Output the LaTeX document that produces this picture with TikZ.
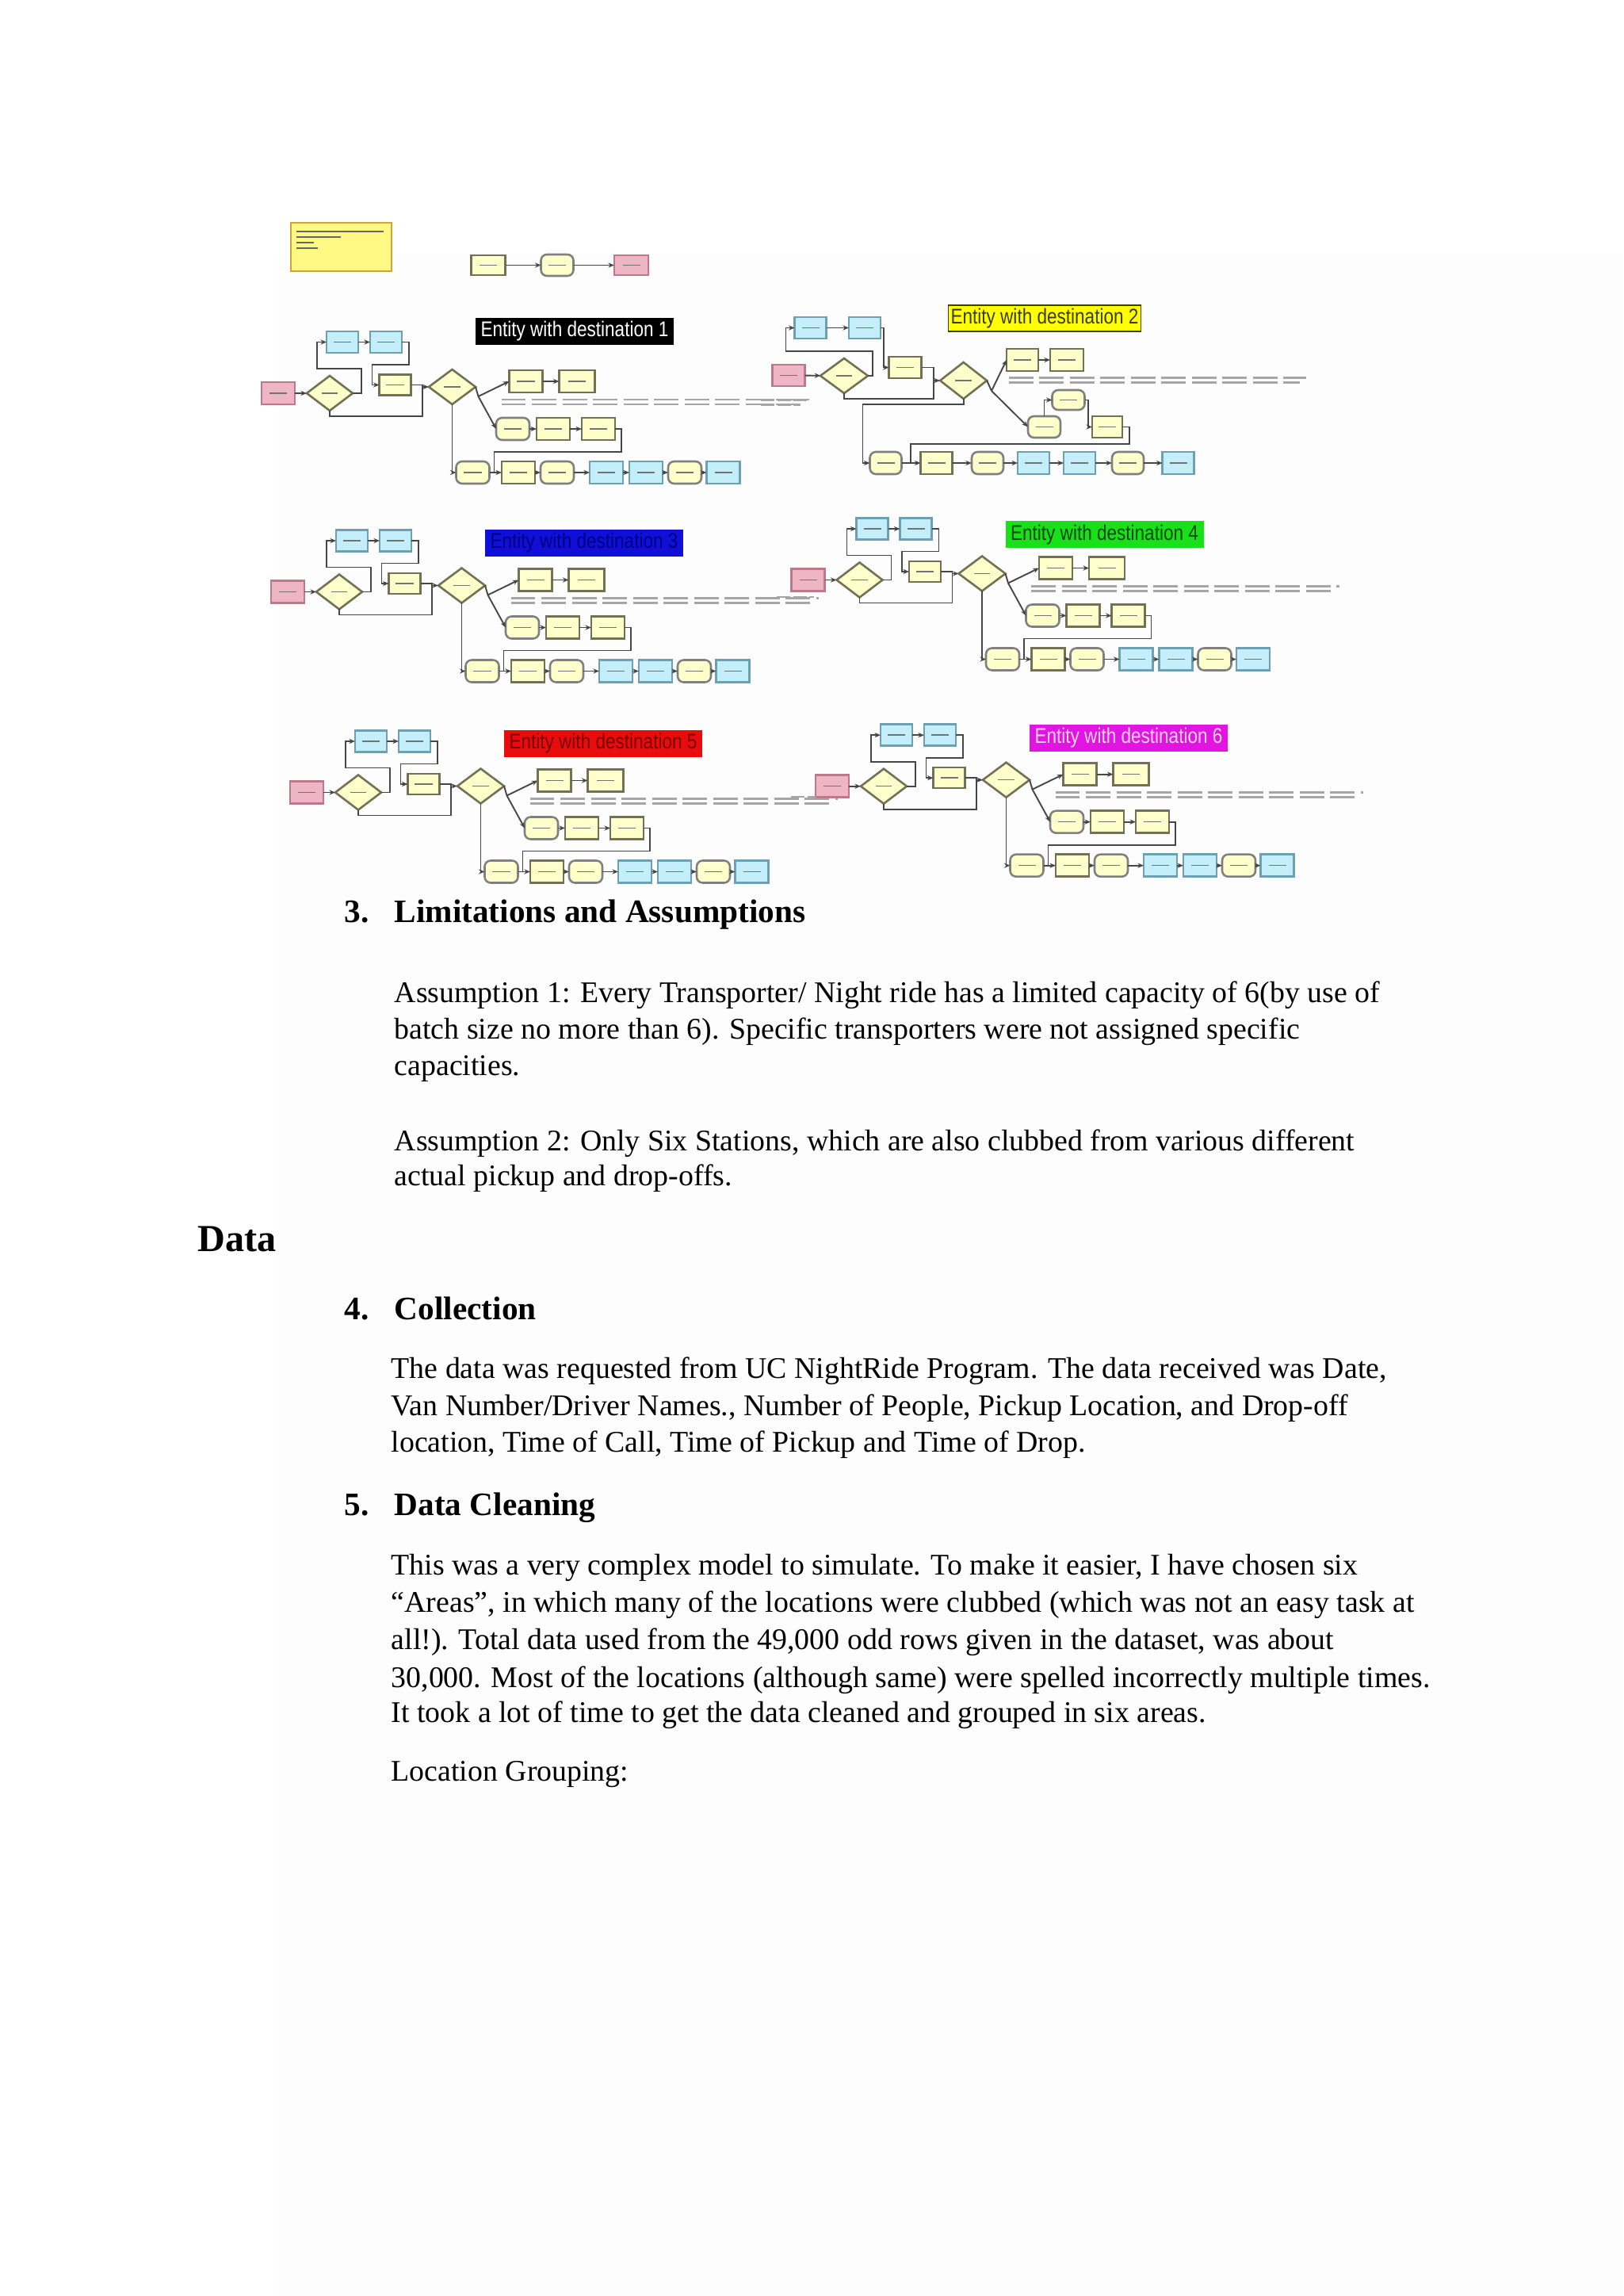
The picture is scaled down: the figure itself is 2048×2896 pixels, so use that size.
\documentclass[tikz,border=0pt]{standalone}
\usepackage{fontspec}
\setmainfont{Liberation Serif}
\newfontfamily\lblfont[FakeStretch=0.84]{Liberation Sans}
\usetikzlibrary{shapes.geometric,arrows.meta}
\definecolor{yfill}{RGB}{255,255,204}
\definecolor{bfill}{RGB}{196,238,250}
\definecolor{bbord}{RGB}{110,160,180}
\definecolor{pfill}{RGB}{238,182,196}
\definecolor{pbord}{RGB}{190,120,140}
\definecolor{bord}{RGB}{115,112,85}
\definecolor{lnc}{RGB}{70,70,70}
\definecolor{notefill}{RGB}{255,248,130}
\definecolor{notebord}{RGB}{205,165,60}
\definecolor{pagebg}{RGB}{253,253,253}
\definecolor{labblue}{RGB}{15,15,215}
\definecolor{labbluet}{RGB}{0,0,130}
\definecolor{labyel}{RGB}{255,255,0}
\definecolor{labyelt}{RGB}{60,60,0}
\definecolor{labgreen}{RGB}{25,225,25}
\definecolor{labgreent}{RGB}{0,70,0}
\definecolor{labred}{RGB}{232,12,12}
\definecolor{labredt}{RGB}{120,0,0}
\definecolor{labmag}{RGB}{225,20,225}
\definecolor{labmagt}{RGB}{255,215,255}
\newcommand\pxu{0.2906pt}
\tikzset{
  blk/.style={rectangle, inner sep=0pt, outer sep=0pt, line width=0.75pt,
    minimum width={42*\pxu}, minimum height={28*\pxu},
    path picture={\draw[black!55,line width=0.45pt]
      ([xshift=-3.2pt]path picture bounding box.center) --
      ([xshift=3.2pt]path picture bounding box.center);}},
  ybox/.style={blk, fill=yfill, draw=bord},
  rbox/.style={blk, fill=yfill, draw=black!50, rounded corners=2.2pt},
  cbox/.style={blk, fill=bfill, draw=bbord},
  pbox/.style={blk, fill=pfill, draw=pbord},
  dia/.style={diamond, inner sep=0pt, outer sep=0pt, fill=yfill, draw=bord,
    line width=0.75pt, minimum width={58*\pxu}, minimum height={44*\pxu},
    path picture={\draw[black!55,line width=0.45pt]
      ([xshift=-3pt]path picture bounding box.center) --
      ([xshift=3pt]path picture bounding box.center);}},
  con/.style={draw=lnc, line width=0.55pt},
  arr/.style={con, -{Stealth[length=2.2pt,width=1.8pt]}},
  txtrow/.style={draw=black!35, line width=0.8pt, dash pattern=on 9pt off 2.2pt},
  scrib/.style={draw=black!60, line width=0.55pt},
  lbl/.style={rectangle, inner sep=0pt, outer sep=0pt, minimum width={250*\pxu},
    minimum height={34*\pxu}, font={\lblfont\fontsize{7.8}{8}\selectfont}},
  body/.style={anchor=base west, inner sep=0pt, font={\fontsize{11}{13}\selectfont}},
  hd/.style={anchor=base west, inner sep=0pt, font={\bfseries\fontsize{12}{14}\selectfont}},
  pics/stdmodel/.style n args={4}{code={
    \node[pbox] (-pk) at (0,0) {};
    \node[dia] (-d1) at (65,0) {};
    \node[cbox, minimum width={40*\pxu}, minimum height={27*\pxu}] (-a) at (81,-64.5) {};
    \node[cbox, minimum width={40*\pxu}, minimum height={27*\pxu}] (-b) at (136,-64.5) {};
    \node[ybox, minimum width={40*\pxu}, minimum height={26*\pxu}] (-c) at (147.5,-10.5) {};
    \node[dia, minimum width={59*\pxu}] (-d2) at (219.5,-8) {};
    \node[ybox] (-d) at (312.5,-15) {};
    \node[ybox, minimum width={45*\pxu}] (-e) at (377,-15) {};
    \node[rbox] (-m1) at (296,45) {};
    \node[ybox] (-m2) at (347,45) {};
    \node[ybox] (-m3) at (404,45) {};
    \node[rbox] (-b1) at (245.5,100) {};
    \node[ybox] (-b2) at (303,100) {};
    \node[rbox] (-b3) at (352,100) {};
    \node[cbox] (-b4) at (414,100) {};
    \node[cbox] (-b5) at (464,100) {};
    \node[rbox] (-b6) at (513,100) {};
    \node[cbox] (-b7) at (561.5,100) {};
    \coordinate (-j) at (252.5,4);
    \node[lbl, fill=#1, text=#2] (-lab) at (374,#4) {Entity with destination #3};
    \draw[arr] (-pk) -- (-d1);
    \draw[arr] (-d1.east) -- (105,0) -- (105,-31) -- (49,-31) -- (49,-64.5) -- (-a.west);
    \draw[arr] (-a) -- (-b);
    \draw[arr] (-b.east) -- (165,-64.5) -- (165,-36) -- (118.5,-36) -- (118.5,-10.5) -- (-c.west);
    \draw[arr] (-c.east) -- (182,-10.5) |- (-d2.west);
    \draw[con] (-d1.south) |- (182,29) -- (182,-8);
    \draw[con] (-d2.east) -- (-j);
    \draw[arr] (-j) -- (-d.west);
    \draw[arr] (-j) -- (-m1.west);
    \draw[arr] (-d) -- (-e);
    \draw[arr] (-m1) -- (-m2);
    \draw[arr] (-m2) -- (-m3);
    \draw[con] (-m3.east) -- (433,45) -- (433,74) -- (272.5,74) -- (272.5,100);
    \draw[arr] (-d2.south) |- (-b1.west);
    \draw[arr] (-b1) -- (-b2);
    \draw[arr] (-b2) -- (-b3);
    \draw[arr] (-b3) -- (-b4);
    \draw[arr] (-b4) -- (-b5);
    \draw[arr] (-b5) -- (-b6);
    \draw[arr] (-b6) -- (-b7);
    \draw[txtrow] (281.5,8) -- (670,8);
    \draw[txtrow] (281.5,14) -- (662,14);
  }}
}
\begin{document}
\begin{tikzpicture}[x=0.2906pt, y=-0.2906pt]
\useasboundingbox (0,0) rectangle (2048,2896);
\fill[white] (0,0) rectangle (2048,2896);
\fill[pagebg] (350,320) rectangle (2048,2896);

% note and top chain
\node[rectangle, fill=notefill, draw=notebord, line width=0.6pt, inner sep=0pt,
  minimum width={127*\pxu}, minimum height={61*\pxu}] (note) at (430.5,311.5) {};
\draw[scrib] (374,292) -- (484,292);
\draw[scrib] (374,299) -- (430,299);
\draw[scrib] (374,306) -- (396,306);
\draw[scrib] (374,313) -- (401,313);
\node[ybox, minimum width={43*\pxu}, minimum height={25*\pxu}] (tc1) at (616,334.5) {};
\node[rbox, minimum width={41*\pxu}, minimum height={27*\pxu}] (tc2) at (703,334.5) {};
\node[pbox, minimum width={43*\pxu}, minimum height={25*\pxu}] (tc3) at (796.5,334.5) {};
\draw[arr] (tc1) -- (tc2);
\draw[arr] (tc2) -- (tc3);

% standard models
\pic (m1) at (351,496) {stdmodel={black}{white}{1}{-78}};
\pic (m3) at (363,746.5) {stdmodel={labblue}{labbluet}{3}{-61.5}};
\pic (m4) at (1019.5,731.5) {stdmodel={labgreen}{labgreent}{4}{-57}};
\pic (m5) at (387,999.5) {stdmodel={labred}{labredt}{5}{-61.5}};
\pic (m6) at (1050,991.7) {stdmodel={labmag}{labmagt}{6}{-60.7}};
\draw[txtrow, dash pattern=on 5pt off 1pt] (980,753) -- (1027,753);
\draw[txtrow, dash pattern=on 5pt off 1pt] (998,1005) -- (1030,1005);

% model 2
\begin{scope}[shift={(995,473.5)}]
  \node[pbox, minimum width={41*\pxu}, minimum height={27*\pxu}] (m2-pk) at (0,0) {};
  \node[dia, minimum width={60*\pxu}] (m2-d1) at (70,0.5) {};
  \node[cbox, minimum width={40*\pxu}, minimum height={27*\pxu}] (m2-a) at (27.5,-60) {};
  \node[cbox, minimum width={40*\pxu}, minimum height={27*\pxu}] (m2-b) at (96,-60) {};
  \node[ybox, minimum width={41*\pxu}, minimum height={27*\pxu}] (m2-c) at (147,-10) {};
  \node[dia, minimum width={59*\pxu}, minimum height={46*\pxu}] (m2-d2) at (220.6,6.5) {};
  \node[ybox, minimum width={40*\pxu}] (m2-d) at (295,-19.5) {};
  \node[ybox] (m2-e) at (351,-19.5) {};
  \node[rbox, minimum width={41*\pxu}, minimum height={25*\pxu}] (m2-m1) at (353,31) {};
  \node[rbox, minimum width={41*\pxu}, minimum height={27*\pxu}] (m2-m2) at (322.5,65) {};
  \node[ybox, minimum width={38*\pxu}, minimum height={27*\pxu}] (m2-m3) at (402,65) {};
  \node[rbox, minimum width={40*\pxu}] (m2-b1) at (122.5,110.5) {};
  \node[ybox, minimum width={40*\pxu}] (m2-b2) at (186.5,110.5) {};
  \node[rbox, minimum width={40*\pxu}] (m2-b3) at (251,110.5) {};
  \node[cbox, minimum width={40*\pxu}] (m2-b4) at (309,110.5) {};
  \node[cbox, minimum width={40*\pxu}] (m2-b5) at (367,110.5) {};
  \node[rbox, minimum width={40*\pxu}] (m2-b6) at (428,110.5) {};
  \node[cbox, minimum width={40*\pxu}] (m2-b7) at (491.6,110.5) {};
  \coordinate (m2-j) at (256,19.5);
  \node[lbl, fill=labyel, draw=labyelt, line width=0.5pt, text=labyelt,
    minimum width={243*\pxu}, minimum height={33*\pxu}] (m2-lab) at (323,-72) {Entity with destination 2};
  \draw[arr] (m2-pk) -- (m2-d1);
  \draw[arr] (m2-d1.east) -- (105.6,0.5) -- (105.6,-30.5) -- (-3.5,-30.5) -- (-3.5,-60) -- (m2-a.west);
  \draw[arr] (m2-a) -- (m2-b);
  \draw[arr] (m2-b.east) -- (120,-60) -- (120,-10) -- (m2-c.west);
  \draw[arr] (m2-c.east) -- (183,-10) |- (m2-d2.west);
  \draw[con] (m2-d1.south) |- (183,29.5) -- (183,6.5);
  \draw[con] (m2-d2.east) -- (m2-j);
  \draw[arr] (m2-j) -- (m2-d.west);
  \draw[arr] (m2-j) -- (m2-m2.west);
  \draw[arr] (m2-d) -- (m2-e);
  \draw[arr] (m2-m2.north) |- (m2-m1.west);
  \draw[arr] (m2-m1.east) -- (378,31) |- (m2-m3.west);
  \draw[con] (m2-m3.east) -- (430,65) -- (430,86.5) -- (154,86.5) -- (154,110.5);
  \draw[arr] (m2-d2.south) -- (220.6,36.5) -- (93.5,36.5) |- (m2-b1.west);
  \draw[arr] (m2-b1) -- (m2-b2);
  \draw[arr] (m2-b2) -- (m2-b3);
  \draw[arr] (m2-b3) -- (m2-b4);
  \draw[arr] (m2-b4) -- (m2-b5);
  \draw[arr] (m2-b5) -- (m2-b6);
  \draw[arr] (m2-b6) -- (m2-b7);
  \draw[txtrow] (277.6,3) -- (653,3);
  \draw[txtrow] (277.6,9) -- (645,9);
  \draw[txtrow, dash pattern=on 5pt off 1pt] (-35,31) -- (23,31);
  \draw[txtrow, dash pattern=on 5pt off 1pt] (-35,37) -- (15,37);
\end{scope}

% text
\node[hd] (h3n) at (434,1163) {3.};
\node[hd] (h3) at (497,1163) {Limitations and Assumptions};
\node[body] (a1) at (497,1264) {Assumption 1: Every Transporter/ Night ride has a limited capacity of 6(by use of};
\node[body] (a2) at (497,1310.7) {batch size no more than 6). Specific transporters were not assigned specific};
\node[body] (a3) at (497,1356.7) {capacities.};
\node[body] (b1) at (497,1451.7) {Assumption 2: Only Six Stations, which are also clubbed from various different};
\node[body] (b2) at (497,1495) {actual pickup and drop-offs.};
\node[anchor=base west, inner sep=0pt, font={\bfseries\fontsize{14}{16}\selectfont}] (data) at (249,1578) {Data};
\node[hd] (h4n) at (434,1664) {4.};
\node[hd] (h4) at (497,1664) {Collection};
\node[body] (c1) at (493,1738.3) {The data was requested from UC NightRide Program. The data received was Date,};
\node[body] (c2) at (493,1785) {Van Number/Driver Names., Number of People, Pickup Location, and Drop-off};
\node[body] (c3) at (493,1831.7) {location, Time of Call, Time of Pickup and Time of Drop.};
\node[hd] (h5n) at (434,1911.7) {5.};
\node[hd] (h5) at (497,1911.7) {Data Cleaning};
\node[body] (d1) at (493,1986.7) {This was a very complex model to simulate. To make it easier, I have chosen six};
\node[body] (d2) at (493,2033.3) {“Areas”, in which many of the locations were clubbed (which was not an easy task at};
\node[body] (d3) at (493,2080) {all!). Total data used from the 49,000 odd rows given in the dataset, was about};
\node[body] (d4) at (493,2128.3) {30,000. Most of the locations (although same) were spelled incorrectly multiple times.};
\node[body] (d5) at (493,2172.7) {It took a lot of time to get the data cleaned and grouped in six areas.};
\node[body] (lg) at (493,2246.7) {Location Grouping:};
\end{tikzpicture}
\end{document}
